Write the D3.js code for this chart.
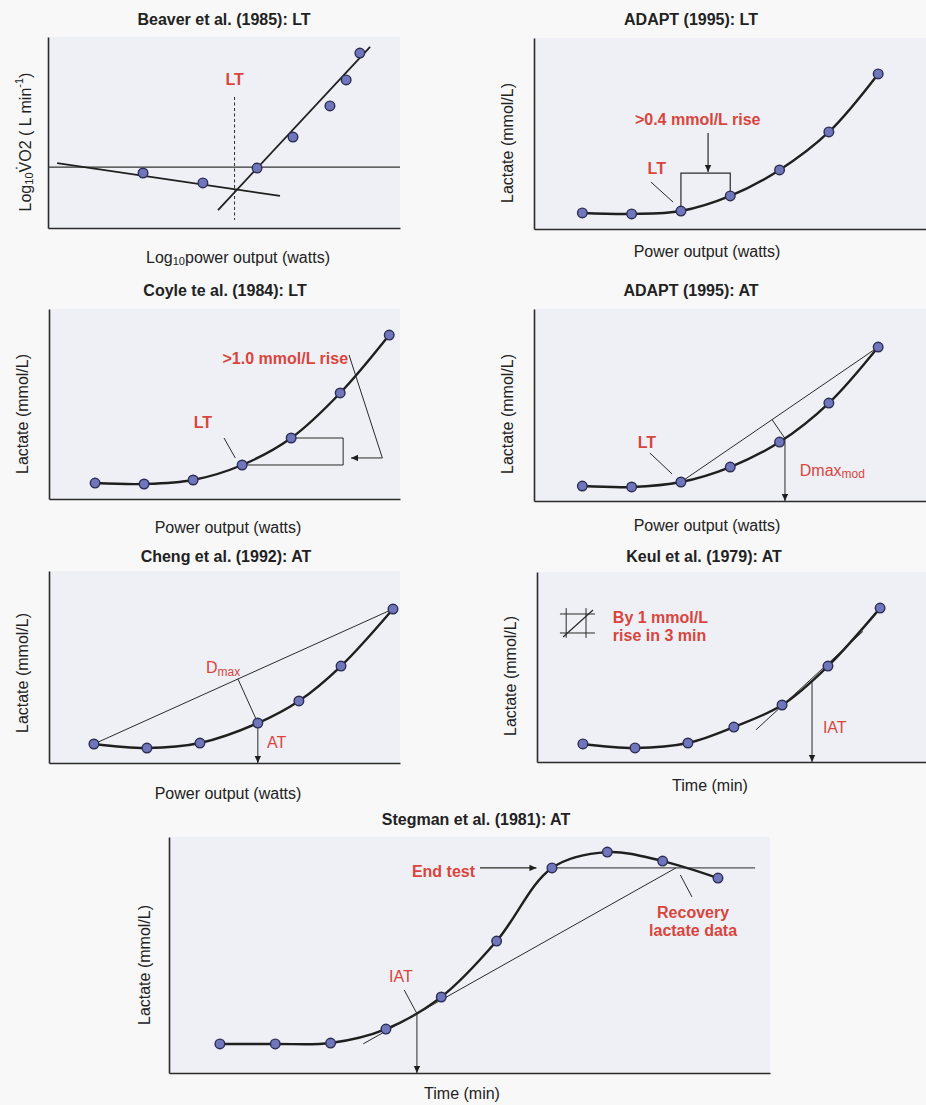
<!DOCTYPE html>
<html><head><meta charset="utf-8">
<script src="https://cdn.jsdelivr.net/npm/d3@7"></script>
<style>
body{margin:0;background:#f8f8f8;}
svg text{font-family:"Liberation Sans",Arial,Helvetica,sans-serif;}
</style></head><body>
<svg id="c" width="926" height="1105"></svg>
<script>
// ---------- DATA ----------
const titles = ["Beaver et al. (1985): LT","ADAPT (1995): LT","Coyle te al. (1984): LT","ADAPT (1995): AT","Cheng et al. (1992): AT","Keul et al. (1979): AT","Stegman et al. (1981): AT"];
const xAxisLabels = ["power output (watts)","Power output (watts)","Power output (watts)","Power output (watts)","Power output (watts)","Time (min)","Time (min)"];
const yAxisLabel = "Lactate (mmol/L)";

// Beaver: log10 power vs log10 VO2 (arbitrary units)
const beaverPower = [2.70,4.40,5.94,6.96,8.01,8.47,8.86];
const beaverVO2   = [2.88,2.36,3.14,4.76,6.39,7.75,9.16];
const beaverLowFitX = [0.26,6.59], beaverLowFitY = [3.40,1.68];
const beaverHighFitX = [4.83,9.15], beaverHighFitY = [0.94,9.48];
const beaverBaseline = 3.19;
const beaverLT = 5.3;

// ADAPT LT
const adaptLtStage = [1,2,3,4,5,6,7];
const adaptLtLactate = [0.84,0.79,0.94,1.73,3.09,5.08,8.12];
// Coyle
const coyleStage = [1,2,3,4,5,6,7];
const coyleLactate = [0.84,0.79,1.00,1.79,3.21,5.58,8.63];
// ADAPT AT
const adaptAtStage = [1,2,3,4,5,6,7];
const adaptAtLactate = [0.78,0.73,0.99,1.77,3.07,5.10,8.02];
const adaptAtDmaxX = 5.11;
// Cheng
const chengPower = [1.28,2.79,4.30,5.95,7.12,8.32,9.80];
const chengLactate = [0.99,0.78,1.04,2.08,3.23,5.05,8.02];
const chengDmaxX = 5.95;
// Keul
const keulTime = [1.18,2.52,3.88,5.06,6.30,7.48,8.82];
const keulLactate = [0.95,0.74,1.00,1.84,3.00,5.05,8.10];
const keulIatX = 7.07;
// Stegman
const stegmanTime = [1,2,3,4,5,6,7,8,9,10];
const stegmanLactate = [1.23,1.23,1.27,1.86,3.22,5.59,8.69,9.36,8.98,8.26];
const stegmanIatX = 4.56;
const stegmanCrossX = 9.24;

// ---------- STYLE ----------
const RED = "#d9453d", INK = "#1f1f1f", PLOT_BG = "#eff0f5";
const svg = d3.select("#c");
svg.append("rect").attr("width",926).attr("height",1105).attr("fill","#f8f8f8");
const defs = svg.append("defs");
defs.append("marker").attr("id","arr").attr("viewBox","0 0 10 10").attr("refX",10).attr("refY",5)
  .attr("markerWidth",8).attr("markerHeight",7).attr("markerUnits","userSpaceOnUse").attr("orient","auto")
  .append("path").attr("d","M0,0.5 L10,5 L0,9.5 z").attr("fill",INK);

function panel(f, xd, yd){
  const x = d3.scaleLinear().domain(xd).range([f.x0, f.x1]);
  const y = d3.scaleLinear().domain(yd).range([f.yBot, f.yTop]);
  svg.append("rect").attr("x",f.x0).attr("y",f.yTop).attr("width",f.x1-f.x0).attr("height",f.yBot-f.yTop).attr("fill",PLOT_BG);
  const style = g => { g.select(".domain").attr("stroke","#2a2a2a").attr("stroke-width",1.6); };
  svg.append("g").attr("transform",`translate(0,${f.yBot})`).call(d3.axisBottom(x).tickValues([]).tickSizeOuter(0)).call(style);
  svg.append("g").attr("transform",`translate(${f.x0},0)`).call(d3.axisLeft(y).tickValues([]).tickSizeOuter(0)).call(style);
  return {x,y,f};
}
function title(str, cx, by){
  svg.append("text").attr("x",cx).attr("y",by).attr("text-anchor","middle").attr("font-size",16).attr("font-weight","bold").attr("fill","#222").text(str);
}
function xLabel(str, cx, cy){
  svg.append("text").attr("x",cx).attr("y",cy).attr("text-anchor","middle").attr("dominant-baseline","central").attr("font-size",16).attr("fill","#222").text(str);
}
function yLabel(str, cx, cy){
  svg.append("text").attr("transform",`translate(${cx},${cy}) rotate(-90)`).attr("text-anchor","middle").attr("dominant-baseline","central").attr("font-size",16).attr("fill","#222").text(str);
}
function curve(s, xs, ys){
  const line = d3.line().x(d=>s.x(d[0])).y(d=>s.y(d[1])).curve(d3.curveCatmullRom.alpha(0.5));
  return svg.append("path").datum(d3.zip(xs,ys)).attr("d",line).attr("fill","none").attr("stroke",INK).attr("stroke-width",2.4).node();
}
function dots(s, xs, ys){
  svg.append("g").selectAll("circle").data(d3.zip(xs,ys)).join("circle")
    .attr("cx",d=>s.x(d[0])).attr("cy",d=>s.y(d[1])).attr("r",4.8)
    .attr("fill","#6f76bb").attr("stroke","#2b2e52").attr("stroke-width",1.4);
}
function poly(s, pts, opt={}){
  const line = d3.line().x(d=>s.x(d[0])).y(d=>s.y(d[1]));
  const p = svg.append("path").attr("d",line(pts)).attr("fill","none").attr("stroke",opt.color||"#2a2a2a").attr("stroke-width",opt.w||1.1);
  if(opt.dash) p.attr("stroke-dasharray",opt.dash);
  if(opt.arrow) p.attr("marker-end","url(#arr)");
  return p;
}
function pxLine(a,b,opt={}){
  const p = svg.append("line").attr("x1",a[0]).attr("y1",a[1]).attr("x2",b[0]).attr("y2",b[1]).attr("stroke",opt.color||"#2a2a2a").attr("stroke-width",opt.w||1.1);
  if(opt.arrow) p.attr("marker-end","url(#arr)");
  return p;
}
function redText(s, xv, yv, str, anchor="middle", weight="bold"){
  return svg.append("text").attr("x",s.x(xv)).attr("y",s.y(yv)).attr("text-anchor",anchor).attr("dominant-baseline","central")
    .attr("font-size",16).attr("font-weight",weight).attr("fill",RED).text(str);
}
function yAtX(node, px){
  const L = node.getTotalLength(); let lo=0, hi=L;
  for(let i=0;i<40;i++){ const m=(lo+hi)/2; if(node.getPointAtLength(m).x<px) lo=m; else hi=m; }
  return node.getPointAtLength((lo+hi)/2).y;
}
function footOnChord(a,b,p){
  const dx=b[0]-a[0], dy=b[1]-a[1];
  const t=((p[0]-a[0])*dx+(p[1]-a[1])*dy)/(dx*dx+dy*dy);
  return [a[0]+t*dx, a[1]+t*dy];
}

// ---------- PANEL 1: Beaver ----------
{
  const s = panel({x0:48,x1:400,yTop:37,yBot:228},[0,10],[0,10]);
  poly(s,[[0,beaverBaseline],[10,beaverBaseline]],{w:1.2,color:"#333"});
  poly(s,d3.zip(beaverLowFitX,beaverLowFitY),{w:1.8,color:INK});
  poly(s,d3.zip(beaverHighFitX,beaverHighFitY),{w:1.8,color:INK});
  poly(s,[[beaverLT,6.86],[beaverLT,0.42]],{w:1,dash:"3,2.5"});
  dots(s,beaverPower,beaverVO2);
  redText(s,beaverLT,7.75,"LT");
  title(titles[0],224,25);
  const xl = svg.append("text").attr("x",238).attr("y",257).attr("text-anchor","middle").attr("dominant-baseline","central").attr("font-size",16).attr("fill","#222");
  xl.append("tspan").text("Log");
  xl.append("tspan").attr("font-size",11).attr("dy",4).text("10");
  xl.append("tspan").attr("dy",-4).text(xAxisLabels[0]);
  const yl = svg.append("text").attr("transform","translate(25,142) rotate(-90)").attr("text-anchor","middle").attr("dominant-baseline","central").attr("font-size",16).attr("fill","#222");
  yl.append("tspan").text("Log");
  yl.append("tspan").attr("font-size",11).attr("dy",4).text("10");
  yl.append("tspan").attr("dy",-4).text("V");
  yl.append("tspan").attr("dx",-8.2).attr("dy",-3.5).text("\u02D9");
  yl.append("tspan").attr("dx",2.9).attr("dy",3.5).text("O2 ( L min");
  yl.append("tspan").attr("font-size",11).attr("dy",-6).text("-1");
  yl.append("tspan").attr("dy",6).text(")");
}

// ---------- PANEL 2: ADAPT LT ----------
{
  const s = panel({x0:534,x1:926,yTop:38,yBot:229},[0.02,7.97],[0,10]);
  curve(s,adaptLtStage,adaptLtLactate);
  poly(s,[[adaptLtStage[2],adaptLtLactate[2]],[adaptLtStage[2],2.93],[adaptLtStage[3],2.93],[adaptLtStage[3],adaptLtLactate[3]]],{w:1.2});
  poly(s,[[3.55,5.03],[3.55,2.98]],{w:1.2,arrow:true});
  poly(s,[[2.39,2.46],[2.84,1.41]],{w:1});
  dots(s,adaptLtStage,adaptLtLactate);
  redText(s,3.34,5.71,">0.4 mmol/L rise");
  redText(s,2.51,3.19,"LT");
  title(titles[1],691,25);
  xLabel(xAxisLabels[1],707,251);
  yLabel(yAxisLabel,507,143);
}

// ---------- PANEL 3: Coyle ----------
{
  const s = panel({x0:49,x1:400,yTop:309,yBot:499},[0.06,7.22],[0,10]);
  curve(s,coyleStage,coyleLactate);
  poly(s,[[coyleStage[3],coyleLactate[3]],[6.06,coyleLactate[3]],[6.06,coyleLactate[4]],[coyleStage[4],coyleLactate[4]]],{w:1});
  poly(s,[[6.18,7.58],[6.86,2.16],[6.22,2.16]],{w:1,arrow:true});
  poly(s,[[3.63,3.21],[3.86,2.16]],{w:1});
  dots(s,coyleStage,coyleLactate);
  redText(s,4.88,7.42,">1.0 mmol/L rise");
  redText(s,3.2,4.05,"LT");
  title(titles[2],225,296);
  xLabel(xAxisLabels[2],228,527);
  yLabel(yAxisLabel,22,414);
}

// ---------- PANEL 4: ADAPT AT ----------
{
  const s = panel({x0:534,x1:926,yTop:309,yBot:501},[0.02,7.97],[0,10]);
  const node = curve(s,adaptAtStage,adaptAtLactate);
  const a=[s.x(adaptAtStage[2]),s.y(adaptAtLactate[2])], b=[s.x(adaptAtStage[6]),s.y(adaptAtLactate[6])];
  pxLine(a,b,{w:1});
  const px=s.x(adaptAtDmaxX), py=yAtX(node,px);
  const ft=footOnChord(a,b,[px,py]);
  pxLine(ft,[px,py],{w:1});
  pxLine([px,py],[px,s.f.yBot],{w:1,arrow:true});
  poly(s,[[2.37,2.5],[2.82,1.41]],{w:1});
  dots(s,adaptAtStage,adaptAtLactate);
  const t = redText(s,5.41,1.61,"Dmax","start","normal");
  t.append("tspan").attr("font-size",12).attr("dy",4).text("mod");
  redText(s,2.31,3.07,"LT");
  title(titles[3],691,296);
  xLabel(xAxisLabels[3],707,525);
  yLabel(yAxisLabel,507,414);
}

// ---------- PANEL 5: Cheng ----------
{
  const s = panel({x0:49,x1:400,yTop:571,yBot:763},[0,10],[0,10]);
  const node = curve(s,chengPower,chengLactate);
  const a=[s.x(chengPower[0]),s.y(chengLactate[0])], b=[s.x(chengPower[6]),s.y(chengLactate[6])];
  pxLine(a,b,{w:1});
  const px=s.x(chengDmaxX), py=yAtX(node,px);
  const ft=footOnChord(a,b,[px,py]);
  pxLine(ft,[px,py],{w:1});
  pxLine([px,py],[px,s.f.yBot],{w:1,arrow:true});
  dots(s,chengPower,chengLactate);
  const t = redText(s,4.96,4.95,"D","middle","normal");
  t.append("tspan").attr("font-size",12).attr("dy",4).text("max");
  redText(s,6.21,1.09,"AT","start","normal");
  title(titles[4],226,562);
  xLabel(xAxisLabels[4],228,793);
  yLabel(yAxisLabel,22,673);
}

// ---------- PANEL 6: Keul ----------
{
  const s = panel({x0:537,x1:926,yTop:572,yBot:762},[0,10],[0,10]);
  const node = curve(s,keulTime,keulLactate);
  const px=s.x(keulIatX), py=yAtX(node,px);
  const slope=(yAtX(node,px+2)-yAtX(node,px-2))/4;
  const xa=s.x(5.63), xb=s.x(8.38);
  pxLine([xa,py+slope*(xa-px)-3],[xb,py+slope*(xb-px)-3],{w:1});
  pxLine([px,py],[px,s.f.yBot],{w:1,arrow:true});
  dots(s,keulTime,keulLactate);
  // grid icon
  poly(s,[[0.75,8.1],[0.75,6.53]],{w:1}); poly(s,[[1.26,8.1],[1.26,6.53]],{w:1});
  poly(s,[[0.59,7.79],[1.49,7.79]],{w:1}); poly(s,[[0.59,6.79],[1.49,6.79]],{w:1});
  poly(s,[[0.67,6.58],[1.44,8.0]],{w:1.2});
  redText(s,1.95,7.63,"By 1 mmol/L","start");
  redText(s,1.95,6.68,"rise in 3 min","start");
  redText(s,7.35,1.79,"IAT","start","normal");
  title(titles[5],704,562);
  xLabel(xAxisLabels[5],710,785);
  yLabel(yAxisLabel,510,676);
}

// ---------- PANEL 7: Stegman ----------
{
  const s = panel({x0:169,x1:770,yTop:837,yBot:1073},[0.08,10.94],[0,10]);
  const node = curve(s,stegmanTime,stegmanLactate);
  const endLevel = stegmanLactate[6];
  poly(s,[[stegmanTime[6],endLevel],[10.67,endLevel]],{w:1});
  const px=s.x(stegmanIatX), py=yAtX(node,px);
  const cx=s.x(stegmanCrossX), cy=s.y(endLevel);
  const xa=s.x(3.59), sl=(cy-py)/(cx-px);
  pxLine([xa,py+sl*(xa-px)],[cx,cy],{w:1});
  pxLine([px,py],[px,s.f.yBot],{w:1,arrow:true});
  poly(s,[[5.7,endLevel],[6.72,endLevel]],{w:1.1,arrow:true});
  poly(s,[[4.33,3.52],[stegmanIatX,s.y.invert(py)]],{w:1});
  poly(s,[[9.32,8.39],[9.53,7.46]],{w:1});
  dots(s,stegmanTime,stegmanLactate);
  redText(s,5.61,8.52,"End test","end");
  redText(s,4.27,4.07,"IAT","middle","normal");
  redText(s,9.55,6.82,"Recovery");
  redText(s,9.55,6.02,"lactate data");
  title(titles[6],476,825);
  xLabel(xAxisLabels[6],462,1093);
  yLabel(yAxisLabel,144,965);
}
</script>
</body></html>
